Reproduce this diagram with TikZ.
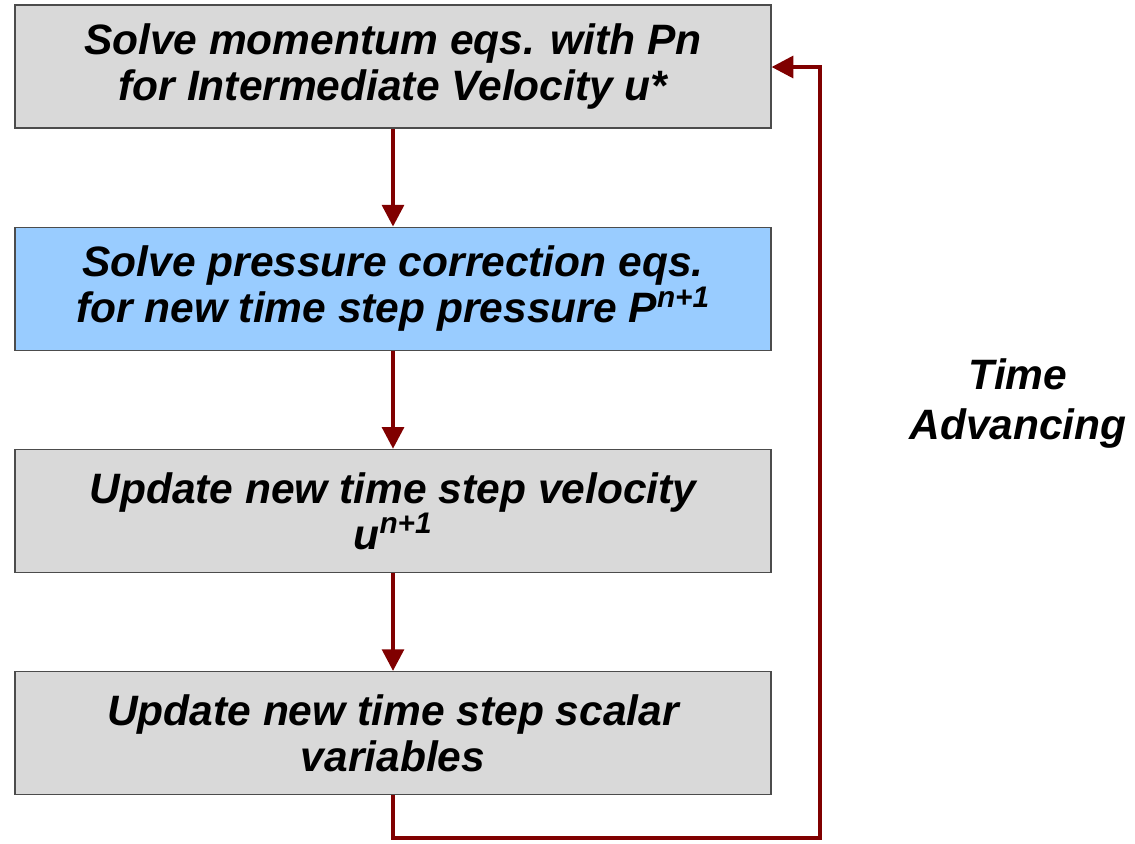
\documentclass[tikz,border=0pt]{standalone}
\usepackage{fontspec}
\setmainfont{Liberation Sans}
\usetikzlibrary{positioning, arrows.meta}
\definecolor{boxgray}{HTML}{D9D9D9}
\definecolor{boxblue}{HTML}{99CCFF}
\definecolor{loopred}{HTML}{800000}

\begin{document}
\begin{tikzpicture}[
    x=0.6pt, y=-0.6pt,
    node distance=58.8pt,
    stepbox/.style={rectangle, draw=black!70, line width=0.7pt, fill=boxgray,
                    minimum width=453.6pt, minimum height=73.8pt,
                    align=center, font=\fontsize{25.5}{27.6}\selectfont\bfseries\itshape},
    flow/.style={draw=loopred, line width=2.4pt, -{Triangle[length=13pt, width=13pt]}}
]
\useasboundingbox (0,0) rectangle (1135,843);
\node[stepbox] (mom) at (393,66.5) {Solve momentum eqs. with Pn\\for Intermediate Velocity u*};
\node[stepbox, fill=boxblue, below=of mom] (pres) {Solve pressure correction eqs.\\for new time step pressure P\textsuperscript{n+1}};
\node[stepbox, below=of pres] (vel) {Update new time step velocity\\u\textsuperscript{n+1}};
\node[stepbox, below=of vel] (scal) {Update new time step scalar\\variables};
\node[align=center, font=\fontsize{25.5}{30}\selectfont\bfseries\itshape] (time) at (1018,403) {Time\\Advancing};

\draw[flow] (mom) -- (pres);
\draw[flow] (pres) -- (vel);
\draw[flow] (vel) -- (scal);
\coordinate (c1) at (scal.south |- 0,838);
\coordinate (c2) at (820,838);
\coordinate (c3) at (820,67);
\draw[flow] (scal.south) -- (c1) -- (c2) -- (c3) -- (mom.east |- c3);
\end{tikzpicture}
\end{document}
